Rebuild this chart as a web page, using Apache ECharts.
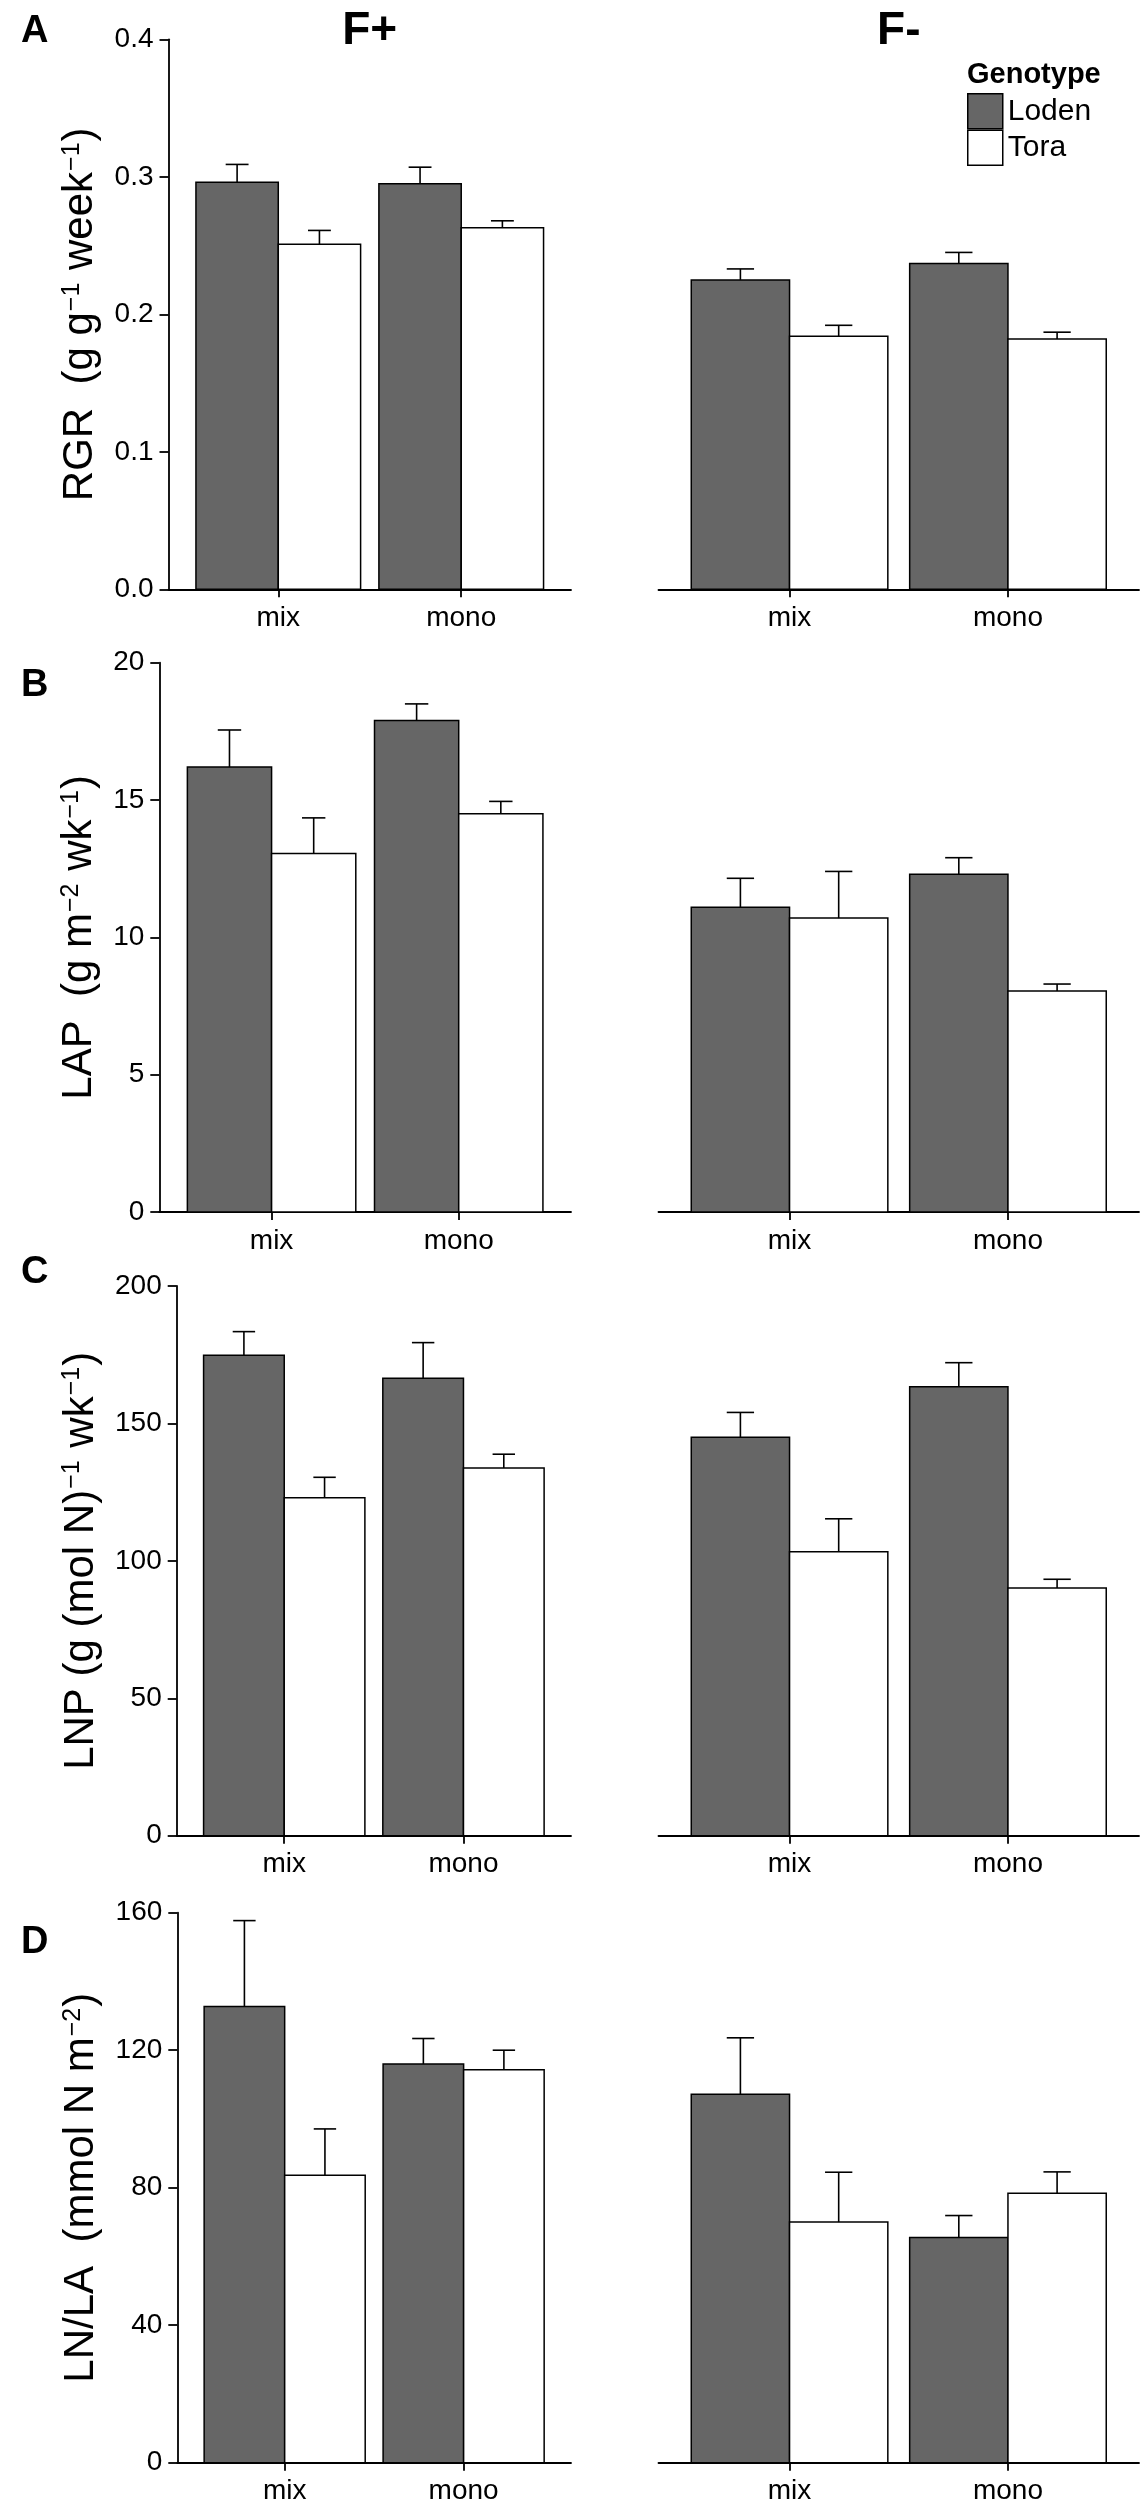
<!DOCTYPE html>
<html>
<head>
<meta charset="utf-8">
<script src="https://cdn.jsdelivr.net/npm/echarts@6/dist/echarts.min.js"></script>
<style>
  html, body { margin: 0; padding: 0; background: #ffffff; }
  #chart { width: 1146px; height: 2509px; }
</style>
</head>
<body>
<div id="chart"></div>
<script>
// ---------------- data ----------------
const categories = ['mix', 'mono'];
const genotypes = ['Loden', 'Tora'];
const facets = ['F+', 'F-'];
const panelLetters = ['A', 'B', 'C', 'D'];

// RGR (g g-1 week-1)
const rgrTicks = [0, 0.1, 0.2, 0.3, 0.4];
const rgrLodenFplus = [0.296, 0.295];
const rgrLodenFplusSE = [0.013, 0.012];
const rgrToraFplus = [0.251, 0.263];
const rgrToraFplusSE = [0.010, 0.005];
const rgrLodenFminus = [0.225, 0.237];
const rgrLodenFminusSE = [0.008, 0.008];
const rgrToraFminus = [0.184, 0.182];
const rgrToraFminusSE = [0.008, 0.005];

// LAP (g m-2 wk-1)
const lapTicks = [0, 5, 10, 15, 20];
const lapLodenFplus = [16.2, 17.9];
const lapLodenFplusSE = [1.35, 0.6];
const lapToraFplus = [13.05, 14.5];
const lapToraFplusSE = [1.3, 0.45];
const lapLodenFminus = [11.1, 12.3];
const lapLodenFminusSE = [1.05, 0.6];
const lapToraFminus = [10.7, 8.05];
const lapToraFminusSE = [1.7, 0.25];

// LNP (g (mol N)-1 wk-1)
const lnpTicks = [0, 50, 100, 150, 200];
const lnpLodenFplus = [174.8, 166.4];
const lnpLodenFplusSE = [8.6, 13.0];
const lnpToraFplus = [123.0, 133.8];
const lnpToraFplusSE = [7.4, 5.0];
const lnpLodenFminus = [145.0, 163.3];
const lnpLodenFminusSE = [9.0, 8.8];
const lnpToraFminus = [103.3, 90.1];
const lnpToraFminusSE = [12.0, 3.2];

// LN/LA (mmol N m-2)
const lnlaTicks = [0, 40, 80, 120, 160];
const lnlaLodenFplus = [132.7, 116.0];
const lnlaLodenFplusSE = [25.0, 7.4];
const lnlaToraFplus = [83.6, 114.3];
const lnlaToraFplusSE = [13.5, 5.7];
const lnlaLodenFminus = [107.2, 65.5];
const lnlaLodenFminusSE = [16.4, 6.4];
const lnlaToraFminus = [70.0, 78.4];
const lnlaToraFminusSE = [14.5, 6.2];

// ---------------- layout / style ----------------
const FONT = "'Liberation Sans', Arial, Helvetica, sans-serif";
const colors = { Loden: '#666666', Tora: '#ffffff' };

const panels = [
  { ticks: rgrTicks, dec: 1, gap: 66,
    name: '{t|RGR  (g g}{s|−1}{t| week}{s|−1}{t|)}',
    vals: [[[rgrLodenFplus, rgrLodenFplusSE], [rgrToraFplus, rgrToraFplusSE]],
           [[rgrLodenFminus, rgrLodenFminusSE], [rgrToraFminus, rgrToraFminusSE]]],
    top: 39.3, h: 550, left: 168.5, letterY: 13 },
  { ticks: lapTicks, dec: 0, gap: 54,
    name: '{t|LAP  (g m}{s|−2}{t| wk}{s|−1}{t|)}',
    vals: [[[lapLodenFplus, lapLodenFplusSE], [lapToraFplus, lapToraFplusSE]],
           [[lapLodenFminus, lapLodenFminusSE], [lapToraFminus, lapToraFminusSE]]],
    top: 662.7, h: 549.3, left: 159.3, letterY: 667 },
  { ticks: lnpTicks, dec: 0, gap: 73,
    name: '{t|LNP (g (mol N)}{s|−1}{t| wk}{s|−1}{t|)}',
    vals: [[[lnpLodenFplus, lnpLodenFplusSE], [lnpToraFplus, lnpToraFplusSE]],
           [[lnpLodenFminus, lnpLodenFminusSE], [lnpToraFminus, lnpToraFminusSE]]],
    top: 1286, h: 549.7, left: 176.7, letterY: 1254 },
  { ticks: lnlaTicks, dec: 0, gap: 73,
    name: '{t|LN/LA  (mmol N m}{s|−2}{t|)}',
    vals: [[[lnlaLodenFplus, lnlaLodenFplusSE], [lnlaToraFplus, lnlaToraFplusSE]],
           [[lnlaLodenFminus, lnlaLodenFminusSE], [lnlaToraFminus, lnlaToraFminusSE]]],
    top: 1912.7, h: 550, left: 177.3, letterY: 1924 }
];
const LEFT_RIGHT_EDGE = 571;
const RIGHT_LEFT = 658.5, RIGHT_RIGHT = 1139;

function makeRender(gi) {
  const fill = colors[genotypes[gi]];
  return function (params, api) {
    const c = api.value(0), v = api.value(1), se = api.value(2);
    const x0 = gi === 0 ? c - 0.45 : c;
    const x1 = gi === 0 ? c : c + 0.45;
    const cx = (x0 + x1) / 2;
    const tl = api.coord([x0, v]);
    const br = api.coord([x1, 0]);
    const top = api.coord([cx, v + se]);
    const capL = api.coord([cx - 0.0625, v + se]);
    const capR = api.coord([cx + 0.0625, v + se]);
    return {
      type: 'group',
      children: [
        { type: 'rect', shape: { x: tl[0], y: tl[1], width: br[0] - tl[0], height: br[1] - tl[1] },
          style: { fill: fill, stroke: '#000', lineWidth: 1.5 } },
        { type: 'line', shape: { x1: top[0], y1: tl[1], x2: top[0], y2: top[1] },
          style: { stroke: '#000', lineWidth: 1.6 } },
        { type: 'line', shape: { x1: capL[0], y1: top[1], x2: capR[0], y2: top[1] },
          style: { stroke: '#000', lineWidth: 1.6 } }
      ]
    };
  };
}

const grids = [], xAxes = [], yAxes = [], series = [], graphics = [];

panels.forEach(function (p, pi) {
  facets.forEach(function (f, fi) {
    const idx = pi * 2 + fi;
    if (fi === 0) {
      grids.push({ left: p.left, top: p.top, width: LEFT_RIGHT_EDGE - p.left, height: p.h });
    } else {
      grids.push({ left: RIGHT_LEFT, top: p.top, width: RIGHT_RIGHT - RIGHT_LEFT, height: p.h });
    }
    xAxes.push({
      gridIndex: idx, type: 'value', min: 0.4, max: 2.6,
      axisLine: { show: true, onZero: false, lineStyle: { color: '#000', width: 1.8 } },
      axisTick: { show: true, customValues: [1, 2], length: 8, lineStyle: { color: '#000', width: 1.8 } },
      axisLabel: { show: true, customValues: [1, 2], fontSize: 28, color: '#000', fontFamily: FONT, margin: 15,
        formatter: function (v) { return categories[Math.round(v) - 1] || ''; } },
      splitLine: { show: false }
    });
    const yBase = {
      gridIndex: idx, type: 'value', min: p.ticks[0], max: p.ticks[p.ticks.length - 1],
      interval: p.ticks[1] - p.ticks[0], splitLine: { show: false }
    };
    if (fi === 0) {
      yAxes.push(Object.assign(yBase, {
        axisLine: { show: true, lineStyle: { color: '#000', width: 1.8 } },
        axisTick: { show: true, length: 9, lineStyle: { color: '#000', width: 1.8 } },
        axisLabel: { show: true, fontSize: 28, color: '#000', fontFamily: FONT, margin: 15,
          formatter: (function (dec) { return function (v) { return Number(v).toFixed(dec); }; })(p.dec) },
        name: p.name, nameLocation: 'middle', nameRotate: 90, nameGap: p.gap,
        nameTextStyle: {
          color: '#000', fontFamily: FONT,
          rich: {
            t: { fontSize: 42, lineHeight: 42, color: '#000', fontFamily: FONT, verticalAlign: 'bottom' },
            s: { fontSize: 25, lineHeight: 25, color: '#000', fontFamily: FONT, verticalAlign: 'top', padding: [0, 1, 26, 1] }
          }
        }
      }));
    } else {
      yAxes.push(Object.assign(yBase, { show: false }));
    }
    genotypes.forEach(function (g, gi) {
      const means = p.vals[fi][gi][0], ses = p.vals[fi][gi][1];
      series.push({
        type: 'custom', name: g, xAxisIndex: idx, yAxisIndex: idx,
        itemStyle: { color: colors[g], borderColor: '#000', borderWidth: 1.5 },
        encode: { x: 0, y: 1 },
        renderItem: makeRender(gi),
        data: categories.map(function (c, ci) { return [ci + 1, means[ci], ses[ci]]; }),
        silent: true
      });
    });
  });
  graphics.push({ type: 'text', x: 21, y: p.letterY, style: { text: panelLetters[pi], font: 'bold 38px ' + FONT, fill: '#000', textAlign: 'left', textVerticalAlign: 'top', align: 'left', verticalAlign: 'top' } });
});

graphics.push({ type: 'text', x: (panels[0].left + LEFT_RIGHT_EDGE) / 2, y: 31,
  style: { text: facets[0], font: 'bold 46px ' + FONT, fill: '#000', textAlign: 'center', textVerticalAlign: 'middle', align: 'center', verticalAlign: 'middle' } });
graphics.push({ type: 'text', x: (RIGHT_LEFT + RIGHT_RIGHT) / 2, y: 31,
  style: { text: facets[1], font: 'bold 46px ' + FONT, fill: '#000', textAlign: 'center', textVerticalAlign: 'middle', align: 'center', verticalAlign: 'middle' } });
graphics.push({ type: 'text', x: 967, y: 75,
  style: { text: 'Genotype', font: 'bold 29px ' + FONT, fill: '#000', textAlign: 'left', textVerticalAlign: 'middle', align: 'left', verticalAlign: 'middle' } });

const chart = echarts.init(document.getElementById('chart'), null, { renderer: 'canvas' });
chart.setOption({
  backgroundColor: '#ffffff',
  animation: false,
  textStyle: { fontFamily: FONT },
  grid: grids,
  xAxis: xAxes,
  yAxis: yAxes,
  series: series,
  legend: {
    show: true, orient: 'vertical', left: 967, top: 93, padding: 0,
    itemWidth: 35, itemHeight: 35, itemGap: 0, selectedMode: false, icon: 'rect',
    data: genotypes.map(function (g) {
      return { name: g, itemStyle: { color: colors[g], borderColor: '#000', borderWidth: 1.5 } };
    }),
    textStyle: { fontSize: 30, color: '#000', fontFamily: FONT, lineHeight: 35 }
  },
  graphic: graphics
});
</script>
</body>
</html>
